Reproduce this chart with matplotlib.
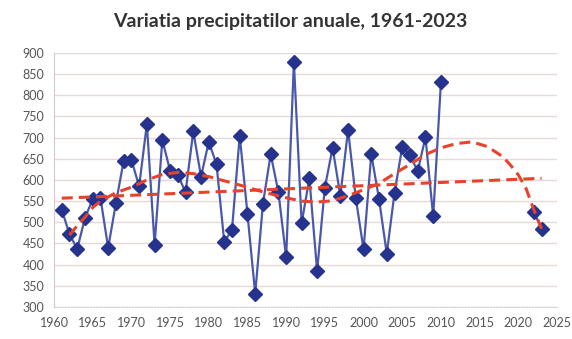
import numpy as np
import matplotlib
matplotlib.use("Agg")
import matplotlib.pyplot as plt

# ---- data ----
years = list(range(1961, 2011)) + [2022, 2023]
precip = [530, 472, 437, 510, 555, 558, 440, 545, 645, 648,
          585, 732, 447, 695, 622, 612, 571, 715, 608, 690,
          637, 454, 482, 705, 520, 331, 544, 661, 571, 417,
          878, 498, 604, 385, 582, 676, 563, 718, 557, 436,
          661, 555, 426, 569, 678, 658, 621, 701, 514, 831,
          525, 485]

# linear trend (end points)
lin_years = [1961, 2023]
lin_vals = [557, 604]

# polynomial trend
poly_years = [1962, 1963, 1964, 1965, 1966, 1968, 1970, 1972, 1974, 1976,
              1978, 1980, 1982, 1984, 1986, 1988, 1990, 1992, 1994, 1996,
              1998, 2000, 2002, 2004, 2006, 2008, 2010, 2012, 2014, 2016,
              2018, 2019, 2020, 2021, 2022, 2023]
poly_vals = [470, 492, 512, 535, 550, 570, 583, 600, 613, 618,
             615, 608, 598, 588, 577, 567, 558, 550, 548, 551,
             563, 577, 592, 615, 637, 660, 676, 686, 690, 679,
             655, 635, 612, 580, 530, 485]

x_ticks = list(range(1960, 2026, 5))
y_ticks = list(range(300, 901, 50))
title = "Variatia precipitatilor anuale, 1961-2023"

# ---- plot ----
plt.rcParams['font.family'] = ['Lato', 'DejaVu Sans']
fig = plt.figure(figsize=(5.72, 3.39), dpi=100)
ax = fig.add_axes([0.0944, 0.0944, 0.8794, 0.7493])

yrs = np.array(years, dtype=float)
vals = np.array(precip, dtype=float)
full_years = np.arange(1961, 2024)
full_vals = np.full(full_years.shape, np.nan)
for y, v in zip(yrs, vals):
    full_vals[int(y) - 1961] = v

ax.plot(full_years, full_vals, color='#4a58ab', lw=1.6, zorder=3,
        marker='D', markersize=6.8, markerfacecolor='#25338f',
        markeredgecolor='#25338f')

red = '#e8432a'
ax.plot(lin_years, lin_vals, color=red, lw=2.2, linestyle=(0, (3.6, 2.0)),
        zorder=4)
ax.plot(poly_years, poly_vals, color=red, lw=2.2, linestyle=(0, (3.6, 2.0)),
        zorder=4)

ax.set_xlim(1960, 2025)
ax.set_ylim(300, 900)
ax.set_xticks(x_ticks)
ax.set_yticks(y_ticks)
ax.tick_params(axis='both', length=0, labelsize=9, colors='#555555')
ax.tick_params(axis='y', pad=7)
ax.tick_params(axis='x', pad=7)
ax.grid(axis='y', color='#e6d8d6', lw=1.0, zorder=0)
ax.set_axisbelow(True)
for s in ['top', 'right']:
    ax.spines[s].set_visible(False)
ax.spines['left'].set_color('#d8c8c8')
ax.spines['bottom'].set_color('#cfcfcf')
ax.spines['bottom'].set_linestyle((0, (1, 1.5)))

fig.text(0.507, 0.937, title, ha='center', va='center', fontsize=14,
         fontweight='bold', color='#333333')

fig.savefig('out.png', dpi=100)
